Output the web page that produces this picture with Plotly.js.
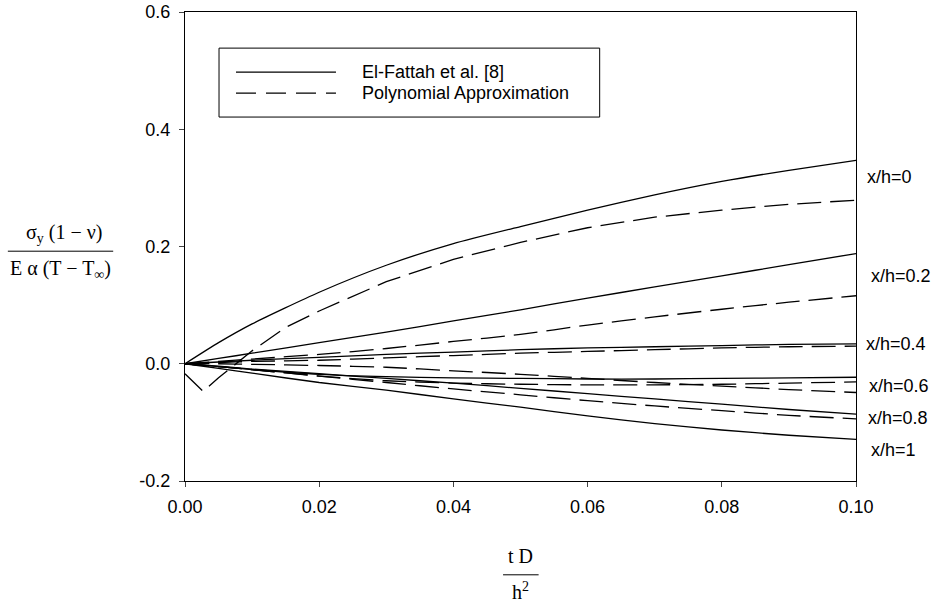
<!DOCTYPE html>
<html>
<head>
<meta charset="utf-8">
<script src="https://cdn.plot.ly/plotly-3.0.1.min.js"></script>
<style>html,body{margin:0;padding:0;background:#fff;}#chart{width:936px;height:607px;}</style>
</head>
<body>
<div id="chart"></div>
<script>
// Dimensionless time tD/h^2
const t = [0, 0.005, 0.01, 0.02, 0.03, 0.04, 0.05, 0.06, 0.07, 0.08, 0.09, 0.10];

// El-Fattah et al. [8] (solid)
const solid_0   = [0, 0.036, 0.068, 0.122, 0.168, 0.205, 0.234, 0.262, 0.288, 0.311, 0.330, 0.347];
const solid_02  = [0, 0.009, 0.018, 0.036, 0.054, 0.073, 0.092, 0.112, 0.131, 0.150, 0.169, 0.188];
const solid_04  = [0, 0.003, 0.006, 0.011, 0.016, 0.020, 0.024, 0.027, 0.029, 0.031, 0.033, 0.034];
const solid_06  = [0, -0.005, -0.010, -0.018, -0.022, -0.024, -0.025, -0.026, -0.026, -0.025, -0.024, -0.023];
const solid_08  = [0, -0.004, -0.009, -0.017, -0.025, -0.033, -0.042, -0.051, -0.060, -0.069, -0.078, -0.086];
const solid_1   = [0, -0.008, -0.016, -0.032, -0.045, -0.060, -0.074, -0.089, -0.102, -0.113, -0.122, -0.129];

// Polynomial approximation (dashed)
const tPoly0 = [0, 0.0027, 0.005, 0.008, 0.01, 0.015, 0.02, 0.03, 0.04, 0.05, 0.06, 0.07, 0.08, 0.09, 0.10];
const poly_0 = [-0.017, -0.047, -0.024, 0.004, 0.022, 0.062, 0.090, 0.140, 0.178, 0.207, 0.232, 0.250, 0.262, 0.272, 0.279];
const poly_02 = [0, 0.004, 0.008, 0.016, 0.026, 0.038, 0.050, 0.066, 0.080, 0.093, 0.105, 0.116];
const poly_04 = [0, 0.002, 0.004, 0.006, 0.010, 0.014, 0.018, 0.021, 0.024, 0.027, 0.029, 0.030];
const poly_06 = [0, -0.005, -0.010, -0.021, -0.029, -0.033, -0.035, -0.036, -0.036, -0.035, -0.033, -0.031];
const poly_08 = [0, 0.000, -0.001, -0.003, -0.006, -0.012, -0.018, -0.025, -0.032, -0.038, -0.044, -0.049];
const poly_1  = [0, -0.005, -0.010, -0.021, -0.032, -0.043, -0.053, -0.063, -0.072, -0.080, -0.088, -0.094];

// Series names and curve labels
const seriesNames = ["El-Fattah et al. [8]", "Polynomial Approximation"];
const curveLabels = ["x/h=0", "x/h=0.2", "x/h=0.4", "x/h=0.6", "x/h=0.8", "x/h=1"];
const labelY = [0.318, 0.150, 0.034, -0.038, -0.092, -0.147];
const labelShift = [9, 13, 8, 11, 10, 13];

const xTicks = [0, 0.02, 0.04, 0.06, 0.08, 0.10];
const xTickText = ["0.00", "0.02", "0.04", "0.06", "0.08", "0.10"];
const yTicks = [-0.2, 0, 0.2, 0.4, 0.6];
const yTickText = ["-0.2", "0.0", "0.2", "0.4", "0.6"];

const solidSets = [solid_0, solid_02, solid_04, solid_06, solid_08, solid_1];
const polySets = [poly_0, poly_02, poly_04, poly_06, poly_08, poly_1];
const DASH = '24px,9px';

const traces = [];
solidSets.forEach((ys, i) => {
  traces.push({
    x: t, y: ys, type: 'scatter', mode: 'lines',
    name: seriesNames[0] + ' ' + curveLabels[i], showlegend: false,
    line: {color: '#000', width: 1.3, shape: 'spline', smoothing: 0.6}
  });
});
polySets.forEach((ys, i) => {
  traces.push({
    x: i === 0 ? tPoly0 : t, y: ys, type: 'scatter', mode: 'lines',
    name: seriesNames[1] + ' ' + curveLabels[i], showlegend: false,
    line: {color: '#000', width: 1.3, dash: DASH, shape: i === 0 ? 'linear' : 'spline', smoothing: 0.6}
  });
});

const SANS = 'Liberation Sans, Arial, sans-serif';
const SERIF = 'Liberation Serif, Times New Roman, serif';
const FS = 18;

const annotations = curveLabels.map((s, i) => ({
  text: s, xref: 'paper', yref: 'y', x: 1, y: labelY[i], xanchor: 'left', yanchor: 'middle',
  xshift: labelShift[i], showarrow: false, font: {family: SANS, size: FS, color: '#000'}
}));

// legend texts
annotations.push({text: seriesNames[0], xref: 'paper', yref: 'paper', x: 0.261, y: 0.872, xanchor: 'left', yanchor: 'middle', showarrow: false, font: {family: SANS, size: FS, color: '#000'}});
annotations.push({text: seriesNames[1], xref: 'paper', yref: 'paper', x: 0.261, y: 0.827, xanchor: 'left', yanchor: 'middle', showarrow: false, font: {family: SANS, size: FS, color: '#000'}});

// y-axis title (fraction)
annotations.push({text: 'σ<sub>y</sub> (1 − ν)', xref: 'paper', yref: 'paper', x: -0.181, y: 0.527, xanchor: 'center', yanchor: 'middle', showarrow: false, font: {family: SERIF, size: 20, color: '#000'}});
annotations.push({text: 'E α (T − T<sub>∞</sub>)', xref: 'paper', yref: 'paper', x: -0.186, y: 0.452, xanchor: 'center', yanchor: 'middle', showarrow: false, font: {family: SERIF, size: 20, color: '#000'}});
// x-axis title (fraction)
annotations.push({text: 't D', xref: 'paper', yref: 'paper', x: 0.5, y: -0.16, xanchor: 'center', yanchor: 'middle', showarrow: false, font: {family: SERIF, size: 20, color: '#000'}});
annotations.push({text: 'h<sup>2</sup>', xref: 'paper', yref: 'paper', x: 0.5, y: -0.235, xanchor: 'center', yanchor: 'middle', showarrow: false, font: {family: SERIF, size: 20, color: '#000'}});

const layout = {
  width: 936, height: 607,
  margin: {l: 185, r: 80, t: 12, b: 126},
  paper_bgcolor: '#fff', plot_bgcolor: '#fff',
  font: {family: SANS, size: FS, color: '#000'},
  xaxis: {range: [0, 0.10], tickvals: xTicks, ticktext: xTickText, ticks: 'outside', ticklen: 5, tickwidth: 1,
          ticklabelstandoff: 4, tickfont: {family: SANS, size: FS},
          showgrid: false, zeroline: false, showline: true, linecolor: '#000', linewidth: 1, mirror: true},
  yaxis: {range: [-0.2, 0.6], tickvals: yTicks, ticktext: yTickText, ticks: 'outside', ticklen: 5, tickwidth: 1,
          ticklabelstandoff: 5, tickfont: {family: SANS, size: FS},
          showgrid: false, zeroline: false, showline: true, linecolor: '#000', linewidth: 1, mirror: true},
  showlegend: false,
  annotations: annotations,
  shapes: [
    // legend box and samples
    {type: 'rect', xref: 'paper', yref: 'paper', x0: 0.0507, x1: 0.618, y0: 0.776, y1: 0.923, line: {color: '#000', width: 1}, fillcolor: '#fff'},
    {type: 'line', xref: 'paper', yref: 'paper', x0: 0.076, x1: 0.225, y0: 0.872, y1: 0.872, line: {color: '#000', width: 1.3}},
    {type: 'line', xref: 'paper', yref: 'paper', x0: 0.076, x1: 0.225, y0: 0.827, y1: 0.827, line: {color: '#000', width: 1.3, dash: '20px,10px'}},
    // fraction bars
    {type: 'line', xref: 'paper', yref: 'paper', x0: -0.264, x1: -0.107, y0: 0.490, y1: 0.490, line: {color: '#000', width: 1}},
    {type: 'line', xref: 'paper', yref: 'paper', x0: 0.474, x1: 0.527, y0: -0.2, y1: -0.2, line: {color: '#000', width: 1}}
  ]
};

Plotly.newPlot('chart', traces, layout, {displayModeBar: false, staticPlot: true});
</script>
</body>
</html>
